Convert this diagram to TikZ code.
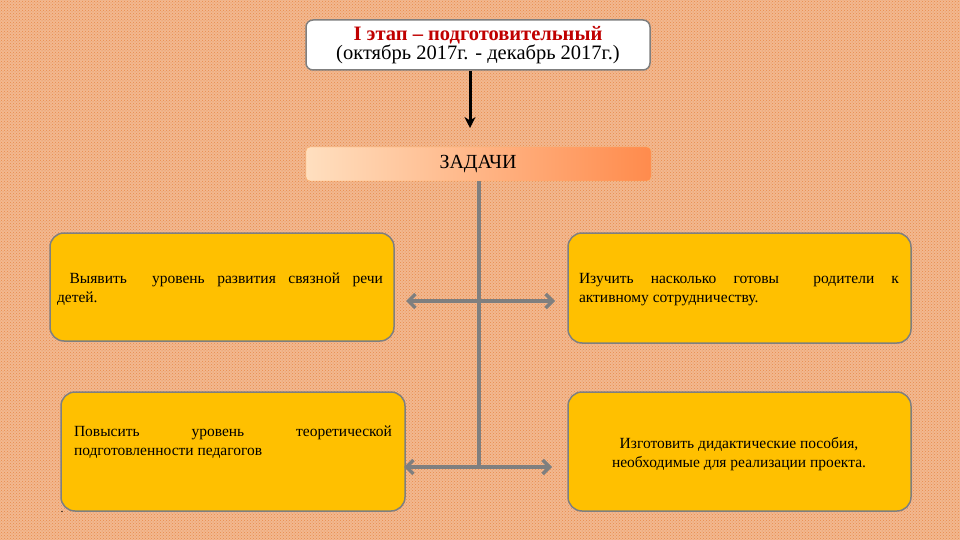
\documentclass[tikz,border=0pt]{standalone}
\usepackage{fontspec}
\setmainfont{Liberation Serif}
\usetikzlibrary{arrows.meta,patterns}
\definecolor{bgc}{HTML}{F2B890}
\definecolor{dotc}{HTML}{E98A4A}
\definecolor{boxc}{HTML}{FFC000}
\definecolor{edgec}{HTML}{7F7F7F}
\definecolor{titlered}{HTML}{C00000}
\tikzset{
 task/.style={draw=edgec,line width=1.5pt,fill=boxc,rounded corners=14pt,minimum width=#1,inner sep=0pt},
 tx/.style={font=\fontsize{15.5}{19}\selectfont},
 conn/.style={draw=edgec,line width=3.5pt},
 dbl/.style={conn,{Straight Barb[length=7pt,width=14pt]}-{Straight Barb[length=7pt,width=14pt]}}
}
\begin{document}
\begin{tikzpicture}[x=1pt,y=-1pt]
\fill[bgc] (0,0) rectangle (960,540);
\fill[pattern=crosshatch dots,pattern color=dotc] (0,0) rectangle (960,540);
\useasboundingbox (0,0) rectangle (960,540);
\node[draw=edgec,line width=1.5pt,fill=white,rounded corners=7pt,minimum width=344pt,minimum height=50pt,align=center,inner sep=0pt] (top) at (478,45)
 {\fontsize{20.5}{23}\selectfont\textbf{\textcolor{titlered}{I этап – подготовительный}}\\\fontsize{20.5}{23}\selectfont(октябрь 2017г. - декабрь 2017г.)};
\shade[left color=orange!25!white,right color=orange!70!red!70!white,rounded corners=4pt,draw=orange!60!white] (306,147) rectangle (651,181);
\node[font=\fontsize{20}{22}\selectfont] (zad) at (478,164) {ЗАДАЧИ};
\coordinate (zb) at (479,181);
\draw[line width=3pt,-{Stealth[length=11pt,width=11pt]}] (top.south -| 470,0) -- (470,128);
\node[task=344pt,minimum height=108pt] (a) at (222,287) {};
\node[task=343pt,minimum height=110pt] (b) at (739.5,288) {};
\node[task=344pt,minimum height=119pt] (c) at (233,451.5) {};
\node[task=343pt,minimum height=119pt] (d) at (739.5,451.5) {};
\node[tx,text width=326pt,align=justify] at (220,289) {\ Выявить\ \ уровень развития связной речи\linebreak детей.};
\node[tx,text width=320pt,align=justify] at (739,290) {Изучить насколько готовы\ \ родители к\linebreak активному сотрудничеству.};
\node[tx,text width=318pt,align=justify] at (233,442) {Повысить уровень теоретической\linebreak подготовленности педагогов};
\node[tx,align=center] at (739,454) {Изготовить дидактические пособия,\\необходимые для реализации проекта.};
\node[font=\fontsize{12}{12}\selectfont,inner sep=0pt] at (62,512) {.};
\coordinate (j1) at (479,301);
\coordinate (j2) at (479,467);
\draw[conn] (zb) -- (j2);
\draw[dbl] (406,301) -- (555,301);
\draw[dbl] (404,467) -- (552,467);
\end{tikzpicture}
\end{document}
